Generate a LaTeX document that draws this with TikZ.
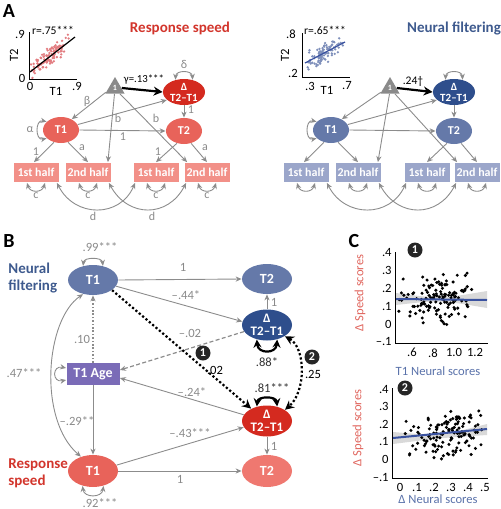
\documentclass[tikz,border=0pt]{standalone}
\usepackage{fontspec}
\setmainfont{Carlito}
\usetikzlibrary{arrows.meta,shapes.geometric,calc}
\newcommand\fsz[1]{\fontsize{#1}{#1}\selectfont}
\definecolor{rtitle}{HTML}{D2352C}
\definecolor{btitle}{HTML}{3E5A8E}
\definecolor{redA}{HTML}{E8635A}
\definecolor{redD}{HTML}{D42A1F}
\definecolor{redL}{HTML}{F29088}
\definecolor{redT}{HTML}{EF7870}
\definecolor{blueA}{HTML}{6579A9}
\definecolor{blueD}{HTML}{2E4E8C}
\definecolor{blueL}{HTML}{9BA6CA}
\definecolor{purp}{HTML}{7A6BB7}
\definecolor{lgray}{HTML}{8C8C8C}
\definecolor{tgray}{HTML}{8A8A8A}
\definecolor{redpt}{HTML}{E27C80}
\definecolor{bluept}{HTML}{7F90BB}
\definecolor{bline}{HTML}{3A52A0}
\definecolor{cred}{HTML}{E0655D}
\definecolor{cblue}{HTML}{5A72AA}
\definecolor{triG}{HTML}{8A8A8A}
\begin{document}
\begin{tikzpicture}[x=0.5pt,y=-0.5pt,
  every node/.style={inner sep=0pt},
  >={Stealth[length=3pt,width=2.6pt]},
  arr/.style={draw=lgray, line width=0.45pt, ->},
  darr/.style={draw=lgray, line width=0.45pt, <->},
  thk/.style={draw=black, line width=1.1pt, -{Stealth[length=4.5pt,width=4.5pt]}},
  bloop/.style={draw=black, line width=1.1pt, {Stealth[length=4pt,width=4pt]}-{Stealth[length=4pt,width=4pt]}},
  dotblk/.style={draw=black, line width=1.1pt, dash pattern=on 1.1pt off 1.1pt},
  glab/.style={text=tgray, font=\fsz{6}},
  blab/.style={text=tgray, font=\fsz{6.3}},
  klab/.style={text=black, font=\fsz{6}},
  ellA/.style={ellipse, minimum width=18pt, minimum height=13pt, text=white, font=\bfseries\fsz{6}},
  dltA/.style={ellipse, minimum width=21pt, minimum height=13pt, inner sep=-0.6pt, text=white, font=\bfseries\fsz{5.5}, align=center},
  boxA/.style={rectangle, minimum width=22.5pt, minimum height=9.5pt, text=white, font=\bfseries\fsz{6}},
  tri/.style={regular polygon, regular polygon sides=3, minimum size=11pt, fill=triG, text=white, font=\bfseries\fsz{4}},
  ellB/.style={ellipse, minimum width=25pt, minimum height=15pt, text=white, font=\bfseries\fsz{7}},
  dltB/.style={ellipse, minimum width=25pt, minimum height=15.5pt, inner sep=-0.8pt, text=white, font=\bfseries\fsz{6.5}, align=center},
  numc/.style={circle, fill=black!85, minimum size=7.5pt, text=white, font=\bfseries\fsz{6}},
  panel/.style={font=\bfseries\fsz{10}},
  tick/.style={font=\fsz{6.3}},
  gdot/.style={draw=lgray, line width=0.6pt, dash pattern=on 0.8pt off 0.9pt, ->},
  gdash/.style={draw=lgray, line width=0.6pt, dash pattern=on 2pt off 1.2pt, ->}
]
\useasboundingbox (0,0) rectangle (500,509);

% ================= PANEL A =================
\node[panel] (lA) at (9,11) {A};
\node[font=\bfseries\fsz{7.5}, text=rtitle] (ttlR) at (180,28) {Response speed};
\node[font=\bfseries\fsz{7.5}, text=btitle] (ttlN) at (454,28) {Neural filtering};

% --- left scatter
\pgfmathsetseed{11}
\foreach \i in {1,...,110}{
  \pgfmathsetmacro\ux{max(0.02,min(0.88,0.38+0.2*(rand+rand)))}
  \pgfmathsetmacro\vy{max(0.02,min(0.88,0.12+0.8*\ux+0.11*(rand+rand)))}
  \fill[redpt] ({29+\ux*53.3},{79-\vy*52.2}) circle[radius=0.65pt];
}
\draw[line width=0.5pt] (29,32) -- (29,79) -- (77,79);
\draw[line width=0.6pt] (30,72) -- (75,37);
\node[tick] (sa1) at (20,34) {.9};
\node[tick] (sa2) at (22,78) {0};
\node[tick] (sa3) at (30,86) {0};
\node[tick] (sa4) at (77,86) {.9};
\node[tick] (sa5) at (56,91) {T1};
\node[tick, rotate=90] (sa6) at (14,55) {T2};
\node[font=\fsz{5.8}] (sa7) at (53,30) {r=.75***};

% --- right scatter
\pgfmathsetseed{23}
\foreach \i in {1,...,95}{
  \pgfmathsetmacro\ux{max(0.22,min(0.72,0.45+0.11*(rand+rand)))}
  \pgfmathsetmacro\vy{max(0.2,min(0.8,0.35+0.73*(\ux-0.246)+0.09*(rand+rand)))}
  \fill[bluept] ({310+(\ux-0.3)*92.5},{73-(\vy-0.2)*66.7}) circle[radius=0.65pt];
}
\draw[line width=0.5pt] (302,33) -- (302,77) -- (350,77);
\draw[bline, line width=0.6pt] (305,63) -- (345,42);
\node[tick] (sb1) at (291,34) {.8};
\node[tick] (sb2) at (293,73) {.2};
\node[tick] (sb3) at (310,86) {.3};
\node[tick] (sb4) at (347,86) {.7};
\node[tick] (sb5) at (327,90) {T1};
\node[tick, rotate=90] (sb6) at (285,55) {T2};
\node[font=\fsz{5.8}] (sb7) at (325,30) {r=.65***};

% --- left SEM (response speed)
\node[tri] (triL) at (115,88) {1};
\node[dltA, fill=redD] (dL) at (184,92) {Δ\\T2–T1};
\node[ellA, fill=redA] (t1L) at (61,130) {T1};
\node[ellA, fill=redA] (t2L) at (184,131) {T2};
\node[boxA, fill=redL] (h1L) at (36,172) {1st half};
\node[boxA, fill=redL] (h2L) at (88,172) {2nd half};
\node[boxA, fill=redL] (h3L) at (156,172) {1st half};
\node[boxA, fill=redL] (h4L) at (207,172) {2nd half};

\draw[thk] (triL.east) -- (dL.west);
\node[klab, font=\fsz{5.4}] (gam) at (144,80) {γ=.13***};
\draw[arr] (triL.205) -- (t1L.45);
\node[glab] (beta) at (87,101) {β};
\draw[arr] (t1L.18) -- (dL.205);
\draw[arr] (t1L.east) -- (t2L.west);
\node[glab] (oneA) at (123,137) {1};
\draw[arr] (dL.south) -- (t2L.north);
\node[glab] (oneB) at (191,110) {1};
\draw[arr] (triL.265) -- ($(h2L.north east)+(-3,0)$);
\node[glab] (bA) at (118,118) {b};
\draw[arr] (triL.-50) -- ($(h4L.north west)+(3,0)$);
\node[glab] (bB) at (156,118) {b};
\draw[arr] (t1L.240) -- ($(h1L.north)+(-2,0)$);
\node[glab] (oneC) at (36,152) {1};
\draw[arr] (t1L.-60) -- (h2L.north);
\node[glab] (aA) at (82,148) {a};
\draw[arr] (t2L.240) -- (h3L.north);
\node[glab] (oneD) at (158,152) {1};
\draw[arr] (t2L.-60) -- (h4L.north);
\node[glab] (aB) at (205,148) {a};
\draw[darr] (t1L.150) .. controls (35,119) and (35,141) .. (t1L.210);
\node[glab] (alpha) at (30,130) {α};
\draw[darr] (dL.125) .. controls (176,70) and (192,70) .. (dL.55);
\node[glab] (delta) at (184,64) {δ};
\foreach \b in {h1L,h2L,h3L,h4L}{
  \draw[darr] ($(\b.south)+(-9,1)$) .. controls +(3,10) and +(-3,10) .. ($(\b.south)+(9,1)$);
  \node[glab] (c\b) at ($(\b.south)+(0,14)$) {c};
}
\draw[darr] ($(h1L.south east)+(-2,1)$) .. controls (75,218) and (120,218) .. ($(h3L.south west)+(2,1)$);
\node[glab] (dA) at (93,216) {d};
\draw[darr] ($(h2L.south east)+(-2,1)$) .. controls (128,218) and (168,218) .. ($(h4L.south west)+(2,1)$);
\node[glab] (dB) at (152,216) {d};

% --- right SEM (neural filtering)
\node[tri] (triR) at (390,88) {1};
\node[dltA, fill=blueD] (dR) at (454,92) {Δ\\T2–T1};
\node[ellA, fill=blueA] (t1R) at (331,130) {T1};
\node[ellA, fill=blueA] (t2R) at (454,131) {T2};
\node[boxA, fill=blueL] (h1R) at (306,172) {1st half};
\node[boxA, fill=blueL] (h2R) at (358,172) {2nd half};
\node[boxA, fill=blueL] (h3R) at (427,172) {1st half};
\node[boxA, fill=blueL] (h4R) at (477,172) {2nd half};

\draw[thk] (triR.east) -- (dR.west);
\node[klab, font=\fsz{5.8}] (g24) at (413,81) {.24†};
\draw[arr] (triR.205) -- (t1R.45);
\draw[arr] (t1R.18) -- (dR.205);
\draw[arr] (t1R.east) -- (t2R.west);
\draw[arr] (dR.south) -- (t2R.north);
\draw[arr] (triR.265) -- ($(h2R.north east)+(-3,0)$);
\draw[arr] (triR.-50) -- ($(h4R.north west)+(3,0)$);
\draw[arr] (t1R.240) -- ($(h1R.north)+(-2,0)$);
\draw[arr] (t1R.-60) -- (h2R.north);
\draw[arr] (t2R.240) -- (h3R.north);
\draw[arr] (t2R.-60) -- (h4R.north);
\draw[darr] (t1R.150) .. controls (305,119) and (305,141) .. (t1R.210);
\draw[darr] (dR.125) .. controls (446,70) and (462,70) .. (dR.55);
\foreach \b in {h1R,h2R,h3R,h4R}{
  \draw[darr] ($(\b.south)+(-9,1)$) .. controls +(3,10) and +(-3,10) .. ($(\b.south)+(9,1)$);
}
\draw[darr] ($(h1R.south east)+(-2,1)$) .. controls (345,218) and (390,218) .. ($(h3R.south west)+(2,1)$);
\draw[darr] ($(h2R.south east)+(-2,1)$) .. controls (398,218) and (438,218) .. ($(h4R.south west)+(2,1)$);

% ================= PANEL B =================
\node[panel] (lB) at (9,241) {B};
\node[font=\bfseries\fsz{7.5}, text=btitle, align=left, anchor=west] (nfB) at (8,278) {Neural\\[1pt]filtering};
\node[font=\bfseries\fsz{7.5}, text=rtitle, align=left, anchor=west] (rsB) at (8,473) {Response\\[1pt]speed};

\node[ellB, fill=blueA] (t1N) at (93,280) {T1};
\node[ellB, fill=blueA] (t2N) at (267,279) {T2};
\node[dltB, fill=blueD] (dN) at (267,325) {Δ\\T2–T1};
\node[rectangle, fill=purp, minimum width=26.5pt, minimum height=11pt, text=white, font=\bfseries\fsz{7}] (age) at (93,374) {T1 Age};
\node[ellB, fill=redA, minimum height=16pt] (t1S) at (93,471) {T1};
\node[dltB, fill=redD] (dS) at (267,421) {Δ\\T2–T1};
\node[ellB, fill=redT, minimum height=16pt] (t2S) at (267,471) {T2};

% neural paths
\draw[arr] (t1N.east) -- (t2N.west);
\node[blab] (lb1) at (183,267) {1};
\draw[arr] (t1N.-15) -- (dN.172);
\node[blab] (lb2) at (186,295) {–.44*};
\draw[arr] (dN.north) -- (t2N.south);
\node[blab] (lb3) at (274,302) {1};
\draw[darr] (t1N.125) .. controls (84,257) and (102,257) .. (t1N.55);
\node[blab] (lb4) at (100,247) {.99***};
\draw[bloop] (dN.-125) .. controls (258,354) and (276,354) .. (dN.-55);
\node[blab, text=black!80] (lb5) at (267,362) {.88*};

% age paths
\draw[gdot] (age.north) -- (t1N.south);
\node[blab] (lb6) at (82,339) {.10};
\draw[gdash] (dN.196) -- ($(age.east)+(0,-4)$);
\node[blab] (lb7) at (190,333) {–.02};
\draw[arr] (dS.165) -- ($(age.east)+(0,4)$);
\node[blab] (lb8) at (192,392) {–.24*};
\draw[arr] (age.south) -- (t1S.north);
\node[blab] (lb9) at (77,421) {–.29**};
\draw[darr] ($(age.west)+(0,-6)$) .. controls (52,365) and (52,383) .. ($(age.west)+(0,6)$);

% correlation curve
\draw[darr] (t1N.235) .. controls (45,320) and (38,420) .. (t1S.130);
\node[blab] (lb10) at (24,373) {.47***};

% speed paths
\draw[arr] (t1S.east) -- (t2S.west);
\node[blab] (lb11) at (180,479) {1};
\draw[arr] (t1S.14) -- (dS.195);
\node[blab] (lb12) at (190,433) {–.43***};
\draw[arr] (dS.south) -- (t2S.north);
\node[blab] (lb13) at (274,446) {1};
\draw[darr] (t1S.-125) .. controls (84,498) and (102,498) .. (t1S.-55);
\node[blab] (lb14) at (100,503) {.92***};
\draw[bloop] (dS.125) .. controls (258,396) and (276,396) .. (dS.55);
\node[blab, text=black!80] (lb15) at (272,388) {.81***};

% black dotted paths
\draw[dotblk, -{Stealth[length=4.5pt,width=4.5pt]}] (t1N.-28) -- (dS.142);
\node[numc] (n1) at (203,353) {1};
\node[klab, font=\fsz{6.3}] (lb16) at (215,370) {.02};
\draw[dotblk, {Stealth[length=4.5pt,width=4.5pt]}-{Stealth[length=4.5pt,width=4.5pt]}] (dN.-32) .. controls (306,348) and (306,392) .. (dS.32);
\node[numc] (n2) at (312,357) {2};
\node[klab, font=\fsz{6.3}] (lb17) at (313,374) {.25};

% ================= PANEL C =================
\node[panel] (lC) at (354,241) {C};

% --- plot 1
\fill[gray!30] (396,293) .. controls (440,299) .. (487,291) -- (487,308) .. controls (440,300) .. (396,305) -- cycle;
\pgfmathsetseed{5}
\foreach \i in {1,...,130}{
  \pgfmathsetmacro\ux{max(0.46,min(1.3,0.84+0.21*(rand+rand)))}
  \pgfmathsetmacro\vy{max(-0.05,min(0.36,0.14+0.08*(rand+rand)))}
  \fill[black] ({412+(\ux-0.6)*105},{324-\vy*178}) circle[radius=0.85pt];
}
\draw[bline, line width=1pt] (396,299) -- (487,300);
\draw[line width=0.5pt] (395,252) -- (395,343) -- (488,343);
\foreach \v/\t in {0.4/.4,0.3/.3,0.2/.2,0.1/.1,0/0,-0.1/–.1}{
  \node[tick, anchor=east] (ya\t) at (392,{324-\v*178}) {\t};
}
\foreach \v/\t in {0.6/.6,0.8/.8,1.0/1.0,1.2/1.2}{
  \node[tick, anchor=north] (xa\t) at ({412+(\v-0.6)*105},348) {\t};
}
\node[font=\fsz{6.3}, text=cblue] (xl1) at (438,371) {T1 Neural scores};
\node[font=\fsz{6.3}, text=cred, rotate=90] (yl1) at (360,293) {Δ Speed scores};
\node[numc] (c1) at (415,250) {1};

% --- plot 2
\fill[gray!30] (393,432) .. controls (440,436) .. (487,424) -- (487,435) .. controls (440,438) .. (393,444) -- cycle;
\pgfmathsetseed{9}
\foreach \i in {1,...,130}{
  \pgfmathsetmacro\ux{max(-0.01,min(0.5,0.27+0.13*(rand+rand)))}
  \pgfmathsetmacro\vy{max(-0.05,min(0.36,0.12+0.1*\ux+0.08*(rand+rand)))}
  \fill[black] ({400+\ux*170},{459.4-\vy*176}) circle[radius=0.85pt];
}
\draw[bline, line width=1pt] (393,438) -- (487,429);
\draw[line width=0.5pt] (392,388) -- (392,478) -- (488,478);
\foreach \v/\t in {0.4/.4,0.3/.3,0.2/.2,0.1/.1,0/0,-0.1/–.1}{
  \node[tick, anchor=east] (yb\t) at (389,{459.4-\v*176}) {\t};
}
\foreach \v/\t in {0/0,0.1/.1,0.2/.2,0.3/.3,0.4/.4,0.5/.5}{
  \node[tick, anchor=north] (xb\t) at ({400+\v*170},483) {\t};
}
\node[font=\fsz{6.3}, text=cblue] (xl2) at (438,499) {Δ Neural scores};
\node[font=\fsz{6.3}, text=cred, rotate=90] (yl2) at (358,428) {Δ Speed scores};
\node[numc] (c2) at (405,388) {2};
\end{tikzpicture}
\end{document}
